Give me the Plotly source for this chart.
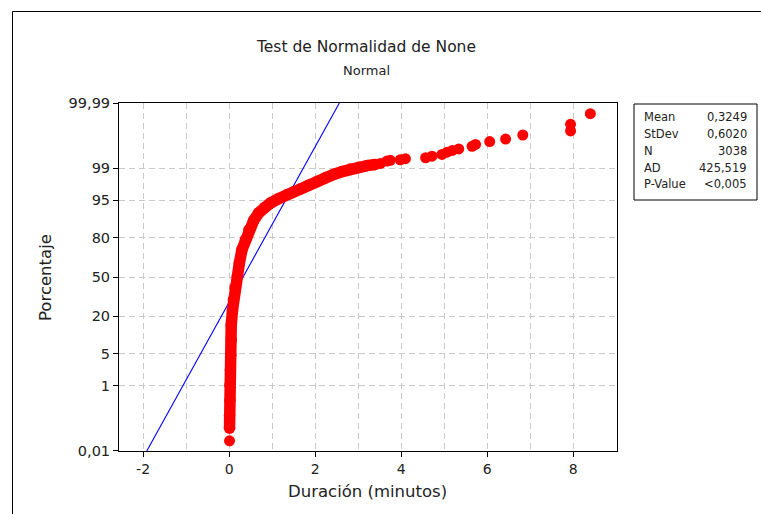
import plotly.graph_objects as go
from statistics import NormalDist

# estadísticos del recuadro
mean = 0.3249
stdev = 0.6020
n_obs = 3038
ad_stat = 425.519
stat_names = ["Mean", "StDev", "N", "AD", "P-Value"]
stat_values = ["0,3249", "0,6020", "3038", "425,519", "<0,005"]

# puntos: duración (minutos) y porcentaje acumulado
# zona densa (los puntos se solapan formando una banda)
dur_band = [0.01, 0.01, 0.02, 0.02, 0.03, 0.04, 0.05, 0.05, 0.08, 0.10, 0.14,
            0.19, 0.24, 0.30, 0.38, 0.46, 0.57, 0.69, 0.82, 0.96, 1.15, 1.35,
            1.50, 1.66, 1.84, 2.05, 2.24, 2.43, 2.63, 2.82, 3.01, 3.21, 3.40]
pct_band = [0.061, 0.157, 0.42, 1.04, 2.33, 4.77, 8.9, 15.3, 24.1, 31.2, 40.8,
            50.4, 61.9, 72.0, 78.7, 84.4, 88.6, 91.5, 93.1, 94.3, 95.3, 96.1,
            96.6, 97.0, 97.5, 97.97, 98.33, 98.58, 98.79, 98.95, 99.05, 99.14, 99.19]
# puntos sueltos (mínimo y cola superior)
dur_tail = [0.01, 3.52, 3.67, 3.75, 3.98, 4.10, 4.57, 4.72, 4.95, 5.07, 5.19,
            5.34, 5.65, 5.73, 6.06, 6.43, 6.83, 7.94, 7.94, 8.40]
pct_tail = [0.023, 99.24, 99.34, 99.37, 99.39, 99.43, 99.46, 99.51, 99.56, 99.62,
            99.66, 99.69, 99.74, 99.77, 99.81, 99.84, 99.88, 99.91, 99.945, 99.976]

# ejes
pct_ticks = [0.01, 1, 5, 20, 50, 80, 95, 99, 99.99]
pct_ticktext = ["0,01", "1", "5", "20", "50", "80", "95", "99", "99,99"]
x_ticks = [-2, 0, 2, 4, 6, 8]
x_ticktext = ["-2", "0", "2", "4", "6", "8"]

nd = NormalDist()


def probit(p):
    return [nd.inv_cdf(v / 100) for v in p]


# layout en píxeles
W, H = 761, 514
L, R, T, B = 119, 144, 103, 63
PW, PH = W - L - R, H - T - B
FONT = "DejaVu Sans"


def px(x):
    return (x - L) / PW


def py(y):
    return (H - B - y) / PH


z_top = nd.inv_cdf(0.9999) + 0.0005
fig = go.Figure()

# recta ajustada de la normal
fig.add_trace(go.Scatter(x=[mean - stdev * z_top, mean + stdev * z_top],
                         y=[-z_top, z_top], mode="lines",
                         line=dict(color="#0000ff", width=1.1),
                         showlegend=False, hoverinfo="skip"))
fig.add_trace(go.Scatter(x=dur_band, y=probit(pct_band), mode="lines+markers",
                         line=dict(color="#ff0000", width=11.5),
                         marker=dict(color="#ff0000", size=11.5),
                         showlegend=False))
fig.add_trace(go.Scatter(x=dur_tail, y=probit(pct_tail), mode="markers",
                         marker=dict(color="#ff0000", size=11),
                         showlegend=False))

grid = dict(showgrid=True, gridcolor="#c8c8c8", griddash="6px,4px", gridwidth=1)
fig.update_xaxes(range=[-2.56, 9.02], tickmode="array", tickvals=x_ticks,
                 ticktext=x_ticktext, ticks="outside", ticklen=5, tickcolor="black",
                 showline=True, linecolor="black", linewidth=1, mirror=True,
                 zeroline=False, tickfont=dict(family=FONT, size=14, color="#222"),
                 minor=dict(dtick=1, tick0=0, ticks="", showgrid=True,
                            gridcolor="#c8c8c8", griddash="6px,4px"),
                 **grid)
fig.update_yaxes(range=[-z_top, z_top], tickmode="array", tickvals=probit(pct_ticks),
                 ticktext=pct_ticktext, ticks="outside", ticklen=5, tickcolor="black",
                 showline=True, linecolor="black", linewidth=1, mirror=True,
                 zeroline=False, tickfont=dict(family=FONT, size=14.5, color="#222"),
                 **grid)

ann = [
    dict(text="Test de Normalidad de None", x=px(366), y=py(47), font_size=15.5),
    dict(text="Normal", x=px(366), y=py(70), font_size=13),
    dict(text="Duración (minutos)", x=px(367.5), y=py(491), font_size=16.5),
    dict(text="Porcentaje", x=px(45), y=py(278), font_size=16.5, textangle=-90),
]
for i, (name, val) in enumerate(zip(stat_names, stat_values)):
    yy = py(117.5 + 16.7 * i)
    ann.append(dict(text=name, x=px(642), y=yy, xanchor="left", font_size=11.5))
    ann.append(dict(text=val, x=px(749), y=yy, xanchor="right", font_size=11.5))
for a in ann:
    a.setdefault("xanchor", "center")
    a.update(xref="paper", yref="paper", yanchor="middle", showarrow=False)
    a["font"] = dict(family=FONT, size=a.pop("font_size"), color="#222")
    fig.add_annotation(**a)

# recuadro de estadísticos y marco exterior
fig.add_shape(type="rect", xref="paper", yref="paper", x0=px(634), x1=px(757),
              y0=py(104), y1=py(200), line=dict(color="black", width=1))
fig.add_shape(type="rect", xref="paper", yref="paper", x0=px(12.5), x1=px(780),
              y0=py(11.5), y1=py(530), line=dict(color="black", width=1))

fig.update_layout(width=W, height=H, margin=dict(l=L, r=R, t=T, b=B),
                  paper_bgcolor="white", plot_bgcolor="white",
                  font=dict(family=FONT, color="#222"))
fig.write_html("out.html", config={"displayModeBar": False},
               post_script="document.body.style.margin='0';"
                           "document.body.style.overflow='hidden';")
